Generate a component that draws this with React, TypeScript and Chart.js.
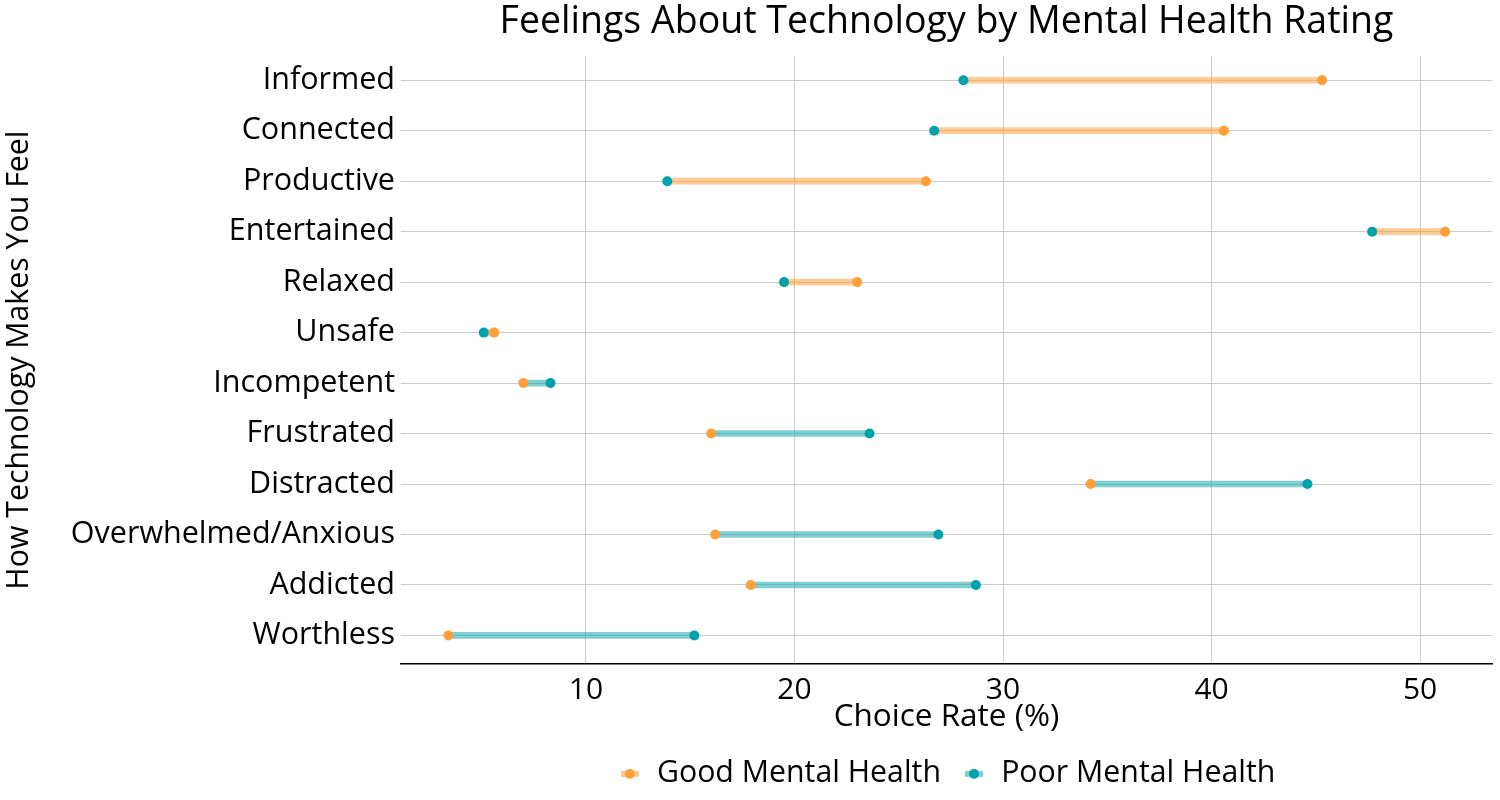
import React, { useEffect, useRef } from 'react';
import { Chart, registerables } from 'chart.js';

Chart.register(...registerables);

const categories = [
  'Informed',
  'Connected',
  'Productive',
  'Entertained',
  'Relaxed',
  'Unsafe',
  'Incompetent',
  'Frustrated',
  'Distracted',
  'Overwhelmed/Anxious',
  'Addicted',
  'Worthless',
];
const goodValues = [45.3, 40.6, 26.3, 51.2, 23.0, 5.6, 7.0, 16.0, 34.2, 16.2, 17.9, 3.4];
const poorValues = [28.1, 26.7, 13.9, 47.7, 19.5, 5.1, 8.3, 23.6, 44.6, 26.9, 28.7, 15.2];
const xTickValues = [10, 20, 30, 40, 50];
const xRange = [1.13, 53.45];

const seriesNames = ['Good Mental Health', 'Poor Mental Health'];
const chartTitle = 'Feelings About Technology by Mental Health Rating';
const xTitle = 'Choice Rate (%)';
const yTitle = 'How Technology Makes You Feel';

const GOOD = '#FF9F3A';
const POOR = '#00A1A9';
const GOOD_LINE = 'rgba(255,159,58,0.55)';
const POOR_LINE = 'rgba(0,161,169,0.5)';
const FONT = "'Open Sans', sans-serif";

function makeIcon(line: string, point: string) {
  const c = document.createElement('canvas');
  c.width = 18;
  c.height = 12;
  const g = c.getContext('2d')!;
  g.strokeStyle = line;
  g.lineWidth = 6;
  g.beginPath();
  g.moveTo(0, 6);
  g.lineTo(18, 6);
  g.stroke();
  g.fillStyle = point;
  g.beginPath();
  g.arc(9, 6, 5, 0, Math.PI * 2);
  g.fill();
  return c;
}

export default function App() {
  const ref = useRef<HTMLCanvasElement>(null);

  useEffect(() => {
    document.body.style.margin = '0';
    if (!ref.current) return;

    const goodLines = categories.map((_, i) =>
      goodValues[i] >= poorValues[i] ? [poorValues[i], goodValues[i]] : null
    );
    const poorLines = categories.map((_, i) =>
      poorValues[i] > goodValues[i] ? [goodValues[i], poorValues[i]] : null
    );

    const icons = [makeIcon(GOOD_LINE, GOOD), makeIcon(POOR_LINE, POOR)];

    const chart = new Chart(ref.current, {
      type: 'bar',
      data: {
        labels: categories,
        datasets: [
          {
            type: 'bar',
            label: 'goodLine',
            data: goodLines as any,
            backgroundColor: GOOD_LINE,
            barThickness: 6,
            grouped: false,
            indexAxis: 'y',
            order: 3,
          } as any,
          {
            type: 'bar',
            label: 'poorLine',
            data: poorLines as any,
            backgroundColor: POOR_LINE,
            barThickness: 6,
            grouped: false,
            indexAxis: 'y',
            order: 3,
          } as any,
          {
            type: 'line',
            label: seriesNames[0],
            data: goodValues,
            showLine: false,
            pointRadius: 5,
            pointBackgroundColor: GOOD,
            pointBorderWidth: 0,
            indexAxis: 'y',
            order: 1,
          } as any,
          {
            type: 'line',
            label: seriesNames[1],
            data: poorValues,
            showLine: false,
            pointRadius: 5,
            pointBackgroundColor: POOR,
            pointBorderWidth: 0,
            indexAxis: 'y',
            order: 2,
          } as any,
        ],
      },
      options: {
        indexAxis: 'y',
        animation: false,
        responsive: true,
        maintainAspectRatio: false,
        layout: { padding: { left: 0, right: 8, top: 0, bottom: 1 } },
        plugins: {
          tooltip: { enabled: false },
          title: {
            display: true,
            text: chartTitle,
            fullSize: false,
            color: '#000',
            font: { family: FONT, size: 37.5, weight: 'normal', lineHeight: 1.2 },
            padding: { top: 0, bottom: 11 },
          },
          legend: {
            position: 'bottom',
            fullSize: false,
            labels: {
              usePointStyle: true,
              pointStyleWidth: 24,
              color: '#000',
              padding: 21,
              font: { family: FONT, size: 30.3 },
              generateLabels: () =>
                seriesNames.map((name, i) => ({
                  text: name,
                  pointStyle: icons[i] as any,
                  fillStyle: i === 0 ? GOOD : POOR,
                  strokeStyle: 'transparent',
                  lineWidth: 0,
                  fontColor: '#000',
                  datasetIndex: i + 2,
                  hidden: false,
                })),
            },
          },
        },
        scales: {
          x: {
            type: 'linear',
            position: 'bottom',
            min: xRange[0],
            max: xRange[1],
            afterBuildTicks: (axis: any) => {
              axis.ticks = xTickValues.map((v) => ({ value: v }));
            },
            grid: { color: '#cccccc', lineWidth: 1, drawTicks: false },
            border: { display: true, color: '#000', width: 1.5 },
            ticks: {
              color: '#000',
              padding: 11,
              font: { family: FONT, size: 30, lineHeight: 1 },
            },
            title: {
              display: true,
              text: xTitle,
              color: '#000',
              font: { family: FONT, size: 31.5, lineHeight: 1 },
              padding: { top: -15, bottom: 5 },
            },
          },
          y: {
            type: 'category',
            offset: true,
            afterFit: (scale: any) => {
              scale.width = 401;
            },
            afterBuildTicks: (scale: any) => {
              scale._startValue = -0.48;
              scale._valueRange = 12.05;
            },
            grid: { offset: false, color: '#cccccc', lineWidth: 1, drawTicks: false },
            border: { display: false },
            ticks: {
              color: '#000',
              padding: 6,
              font: { family: FONT, size: 30.5 },
            },
            title: {
              display: true,
              text: yTitle,
              color: '#000',
              font: { family: FONT, size: 30.3, lineHeight: 1.2 },
              padding: { top: 1, bottom: 0 },
            },
          },
        },
      } as any,
    });

    return () => chart.destroy();
  }, []);

  return (
    <div style={{ width: 1500, height: 800, position: 'relative' }}>
      <canvas ref={ref} />
    </div>
  );
}
